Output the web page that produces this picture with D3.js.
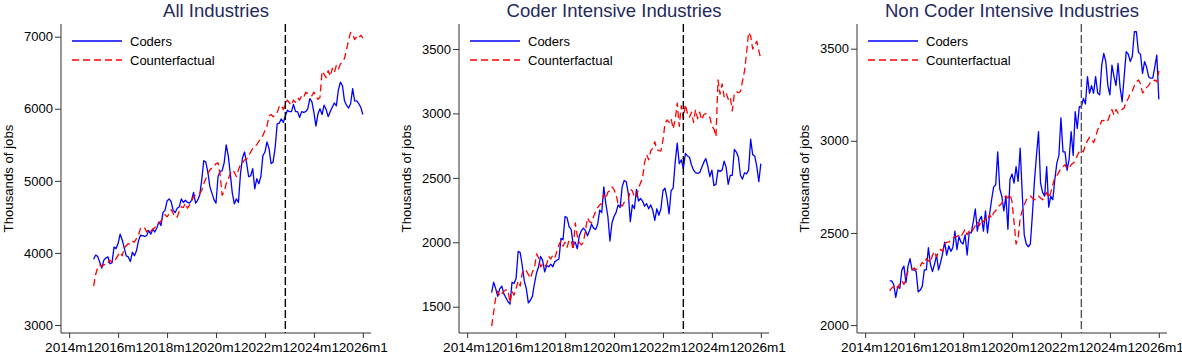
<!DOCTYPE html>
<html><head><meta charset="utf-8">
<script src="https://cdn.jsdelivr.net/npm/d3@7/dist/d3.min.js"></script>
<style>body{margin:0;background:#fff}svg{display:block}text{font-family:"Liberation Sans",Arial,sans-serif}</style>
</head><body><svg id="c" width="1182" height="355"></svg>
<script>
// ---------- data ----------
const startMonth = "2015m1";           // first observation
const policyMonth = "2022m11";         // vertical reference line
const xTickLabels = ["2014m1","2016m1","2018m1","2020m1","2022m1","2024m1","2026m1"];
const seriesNames = ["Coders","Counterfactual"];
const panelTitles = ["All Industries","Coder Intensive Industries","Non Coder Intensive Industries"];
const yTicksAll = [3000,4000,5000,6000,7000];
const yTicksCoder = [1500,2000,2500,3000,3500];
const yTicksNonCoder = [2000,2500,3000,3500];

const allCoders = [
3911,3970,3950,3870,3790,3900,3930,3945,3850,3860,4080,4060,
4130,4260,4180,4070,3960,3945,3880,4010,3960,4030,4170,4245,
4240,4230,4240,4310,4260,4330,4290,4350,4430,4380,4560,4590,
4720,4750,4710,4590,4560,4620,4640,4750,4700,4730,4700,4690,
4730,4840,4690,4730,4800,5010,5280,5260,5120,4920,4830,4740,
4690,5060,5130,5140,5250,5500,5350,5100,4830,4680,4750,4700,
5100,5320,5400,5250,5060,5070,5170,4890,5030,4960,5060,5350,
5400,5540,5450,5240,5260,5460,5790,5800,5860,5810,5900,5980,
5960,5960,6060,5960,5960,5880,5960,5950,5960,6000,6140,6100,
5950,5760,5930,6000,5920,6050,5990,5890,5960,6020,6080,6040,
6260,6370,6320,6110,6050,6010,6070,6280,6110,6110,6070,6020,
5920];
const allCounterfactual = [
3540,3700,3800,3830,3810,3840,3830,3860,3900,3870,3870,3920,
3970,4010,3960,4070,4100,4130,4120,4160,4150,4200,4250,4340,
4330,4350,4290,4330,4300,4330,4350,4400,4410,4440,4490,4530,
4500,4540,4600,4550,4490,4500,4580,4640,4630,4690,4620,4660,
4720,4780,4800,4810,4820,4870,4960,5030,5100,5150,5180,5200,
5240,5250,5090,4800,4850,4960,5020,5100,5150,5120,5060,5150,
5230,5250,5290,5300,5350,5400,5450,5480,5500,5550,5580,5630,
5700,5760,5900,5920,5890,5910,5950,6030,6050,5990,6060,6120,
6080,6050,6120,6090,6150,6120,6180,6160,6230,6210,6200,6180,
6230,6180,6130,6160,6520,6480,6430,6530,6450,6560,6500,6600,
6550,6620,6650,6700,6820,6950,7060,7040,6960,7000,6980,7020,
6980];

const coderIntCoders = [
1610,1690,1640,1580,1640,1660,1600,1570,1540,1520,1690,1680,
1720,1930,1920,1820,1700,1640,1530,1550,1580,1680,1760,1810,
1890,1860,1770,1820,1810,1830,1810,1850,1860,1870,2030,2020,
2200,2190,2120,2100,1980,2000,1950,2050,2090,2110,2090,2050,
2090,2140,2110,2100,2140,2250,2230,2430,2300,2200,2010,2150,
2200,2230,2290,2270,2430,2480,2470,2380,2160,2290,2260,2410,
2320,2340,2320,2280,2300,2260,2290,2250,2170,2260,2210,2260,
2400,2420,2340,2220,2400,2420,2620,2770,2610,2640,2570,2690,
2670,2660,2600,2560,2540,2535,2540,2580,2620,2650,2590,2510,
2560,2440,2450,2560,2550,2560,2630,2580,2450,2520,2520,2720,
2700,2660,2520,2490,2540,2530,2560,2800,2680,2670,2590,2470,
2610];
const coderIntCounterfactual = [
1350,1460,1570,1620,1580,1600,1620,1630,1630,1530,1620,1590,
1640,1700,1660,1760,1790,1780,1750,1720,1770,1800,1910,1880,
1810,1830,1810,1830,1890,1870,1900,1880,1930,1980,2010,1970,
2000,1960,2020,2010,1940,2150,2050,2000,1980,2000,2090,2190,
2160,2150,2200,2240,2270,2290,2300,2370,2340,2390,2400,2430,
2410,2370,2300,2300,2280,2310,2320,2330,2410,2400,2350,2350,
2420,2460,2500,2620,2680,2640,2710,2730,2780,2720,2710,2710,
2790,2920,2950,2930,2960,2880,2950,3080,2900,3060,2960,3070,
3000,2970,3010,2930,3030,2960,3010,2950,2990,3000,2980,2970,
2900,2880,2820,3260,3150,3230,3130,3160,3110,3130,3020,3150,
3170,3160,3170,3250,3330,3470,3630,3600,3500,3530,3560,3490,
3420];

const nonCoderCoders = [
2240,2240,2220,2150,2210,2200,2300,2320,2230,2320,2360,2300,
2300,2290,2180,2190,2210,2300,2300,2420,2330,2290,2330,2380,
2300,2340,2390,2450,2380,2430,2400,2420,2510,2410,2480,2450,
2440,2490,2380,2500,2500,2560,2630,2510,2570,2590,2510,2620,
2500,2600,2680,2750,2760,2940,2740,2700,2620,2700,2520,2790,
2820,2770,2860,2780,2960,2720,2490,2440,2425,2440,2600,2780,
2920,3050,2770,2720,2700,2860,2640,2700,2680,2790,2880,2920,
3125,2940,2940,2840,2900,3050,2920,3158,3067,3185,3185,3230,
3200,3348,3258,3300,3258,3348,3260,3250,3411,3475,3430,3300,
3250,3411,3350,3300,3420,3290,3212,3350,3484,3470,3430,3460,
3592,3592,3480,3470,3366,3430,3400,3348,3340,3340,3400,3465,
3225];
const nonCoderCounterfactual = [
2185,2200,2210,2220,2200,2230,2240,2220,2260,2290,2300,2300,
2310,2300,2310,2320,2340,2330,2360,2350,2340,2380,2400,2370,
2400,2410,2400,2440,2450,2450,2460,2470,2480,2480,2490,2480,
2500,2520,2490,2510,2500,2520,2540,2560,2540,2570,2560,2580,
2570,2600,2580,2610,2620,2640,2650,2660,2690,2700,2690,2710,
2670,2560,2440,2470,2580,2620,2650,2680,2690,2700,2690,2680,
2690,2700,2690,2680,2700,2720,2690,2720,2760,2800,2810,2830,
2850,2860,2870,2850,2850,2870,2880,2890,2920,2940,2950,2940,
2980,3000,3020,3010,2990,3020,3060,3080,3110,3110,3120,3110,
3140,3170,3140,3170,3150,3160,3170,3180,3210,3230,3260,3270,
3300,3320,3330,3310,3260,3270,3290,3300,3320,3320,3330,3320,
3380];

// ---------- helpers ----------
const mIndex = s => { const [yr,mo] = s.split("m").map(Number); return (yr-2014)*12 + (mo-1); };
const firstIdx = mIndex(startMonth);

const panels = [
  {title: panelTitles[0], left: 61,  ticks: yTicksAll,      dom: [2889,7176], s: [allCoders, allCounterfactual], vcol:"#000"},
  {title: panelTitles[1], left: 459, ticks: yTicksCoder,    dom: [1296,3694], s: [coderIntCoders, coderIntCounterfactual], vcol:"#000"},
  {title: panelTitles[2], left: 857, ticks: yTicksNonCoder, dom: [1957,3634], s: [nonCoderCoders, nonCoderCounterfactual], vcol:"#555"}
];
const plotW = 310, plotTop = 24, plotBottom = 333;
const colors = ["#0000ff", "#ff0000"];
const dashes = [null, "7,4"];

const svg = d3.select("#c");

panels.forEach(p => {
  const g = svg.append("g");
  const x = d3.scaleLinear().domain([-4, 148]).range([p.left, p.left + plotW]);
  const y = d3.scaleLinear().domain(p.dom).range([plotBottom, plotTop]);

  // title
  g.append("text").attr("x", p.left + plotW/2).attr("y", 16.5).attr("text-anchor","middle")
    .attr("font-size", 18.5).attr("fill", "#1f2a5c").text(p.title);

  // y axis
  const ya = g.append("g").attr("transform", `translate(${p.left},0)`)
    .call(d3.axisLeft(y).tickValues(p.ticks).tickSize(6).tickPadding(2).tickFormat(d3.format("d")));
  ya.select(".domain").attr("d", `M0,${plotTop}V${plotBottom}`).attr("stroke","#333");
  ya.selectAll(".tick line").attr("stroke","#333");
  ya.selectAll("text").attr("font-size", 13).attr("fill","#000").attr("font-family","Liberation Sans, Arial, sans-serif");

  // x axis
  const xa = g.append("g").attr("transform", `translate(0,${plotBottom})`)
    .call(d3.axisBottom(x).tickValues(xTickLabels.map(mIndex)).tickSize(5).tickPadding(4.5)
      .tickFormat((d,i) => xTickLabels[i]));
  xa.select(".domain").attr("d", `M${p.left},0H${p.left + plotW}`).attr("stroke","#333");
  xa.selectAll(".tick line").attr("stroke","#333");
  xa.selectAll("text").attr("font-size", 13.6).attr("fill","#000").attr("font-family","Liberation Sans, Arial, sans-serif");

  // y label
  g.append("text").attr("transform", `translate(${p.left - 48},${(plotTop+plotBottom)/2}) rotate(-90)`)
    .attr("text-anchor","middle").attr("font-size", 13.2).attr("fill","#000").text("Thousands of jobs");

  // series
  p.s.forEach((vals, k) => {
    const line = d3.line().x((d,i) => x(firstIdx + i)).y(d => y(d));
    g.append("path").attr("d", line(vals)).attr("fill","none")
      .attr("stroke", colors[k]).attr("stroke-width", 1.3)
      .attr("stroke-dasharray", dashes[k]).attr("stroke-linejoin","round");
  });

  // vertical reference line
  const vx = x(mIndex(policyMonth));
  g.append("line").attr("x1", vx).attr("x2", vx)
    .attr("y1", plotTop).attr("y2", plotBottom).attr("stroke", p.vcol).attr("stroke-width", 1.4)
    .attr("stroke-dasharray", "8,3");

  // legend
  seriesNames.forEach((name, k) => {
    const ly = 41 + k*19;
    g.append("line").attr("x1", p.left + 11).attr("x2", p.left + 61).attr("y1", ly).attr("y2", ly)
      .attr("stroke", colors[k]).attr("stroke-width", 1.3).attr("stroke-dasharray", dashes[k]);
    g.append("text").attr("x", p.left + 69).attr("y", ly + 4.7).attr("font-size", 13)
      .attr("fill","#000").text(name);
  });
});
</script></body></html>
